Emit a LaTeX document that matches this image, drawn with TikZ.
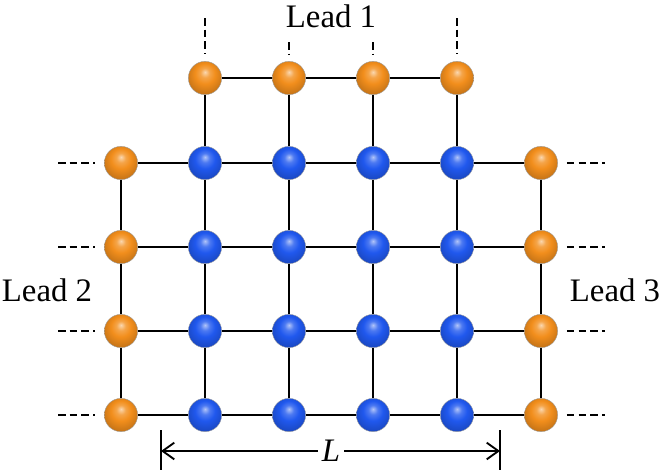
\documentclass[tikz,border=0pt]{standalone}
\usepackage{fontspec}
\setmainfont{Liberation Serif}
\usetikzlibrary{positioning, arrows.meta, calc}
\definecolor{leadorange}{RGB}{242,142,28}
\definecolor{latblue}{RGB}{32,88,238}
\pgfdeclareradialshading{orangeball}{\pgfqpoint{0bp}{9bp}}{%
  color(0bp)=(leadorange!35!white); color(7bp)=(leadorange!80!white);
  color(15bp)=(leadorange); color(28bp)=(leadorange!82!black);
  color(50bp)=(leadorange!55!black)}
\pgfdeclareradialshading{blueball}{\pgfqpoint{0bp}{9bp}}{%
  color(0bp)=(latblue!35!white); color(7bp)=(latblue!80!white);
  color(15bp)=(latblue); color(28bp)=(latblue!82!black);
  color(50bp)=(latblue!55!black)}

\begin{document}
\begin{tikzpicture}[
    x=0.03cm, y=-0.03cm,
    font=\fontsize{28}{31}\selectfont,
    site/.style={circle, inner sep=0pt, minimum size=1cm, draw=black!40, line width=0.3pt},
    leadsite/.style={site, shading=orangeball},
    latsite/.style={site, shading=blueball},
    bond/.style={line width=2.4pt},
    leadline/.style={line width=2.4pt, dash pattern=on 6.5pt off 3.5pt},
    dimline/.style={line width=1.6pt},
    dimarrow/.style={line width=1.6pt, -{Straight Barb[length=3.5mm, width=5mm]}}
]
\useasboundingbox (0,0) rectangle (664,475);

% central lattice
\foreach \i in {1,...,4}
  \foreach \j in {1,...,4}
    \node[latsite] (c-\i-\j) at ({205+84*(\i-1)},{163+84*(\j-1)}) {};

% lead sites
\foreach \i in {1,...,4}
  \node[leadsite] (t-\i) at ({205+84*(\i-1)},78) {};
\foreach \j in {1,...,4} {
  \node[leadsite] (l-\j) at (121,{163+84*(\j-1)}) {};
  \node[leadsite] (r-\j) at (541,{163+84*(\j-1)}) {};
}

% bonds
\foreach \i in {1,...,4} {
  \draw[bond] (t-\i) -- (c-\i-1);
  \foreach \j [evaluate=\j as \k using int(\j+1)] in {1,...,3}
    \draw[bond] (c-\i-\j) -- (c-\i-\k);
}
\foreach \j in {1,...,4} {
  \draw[bond] (l-\j) -- (c-1-\j);
  \draw[bond] (c-4-\j) -- (r-\j);
  \foreach \i [evaluate=\i as \k using int(\i+1)] in {1,...,3}
    \draw[bond] (c-\i-\j) -- (c-\k-\j);
}
\foreach \a [evaluate=\a as \b using int(\a+1)] in {1,...,3} {
  \draw[bond] (t-\a) -- (t-\b);
  \draw[bond] (l-\a) -- (l-\b);
  \draw[bond] (r-\a) -- (r-\b);
}

% semi-infinite leads
\foreach \j in {1,...,4} {
  \coordinate (lend-\j) at (58,{163+84*(\j-1)});
  \coordinate (rend-\j) at (605,{163+84*(\j-1)});
  \draw[leadline] (lend-\j) -- ([xshift=-0.27cm]l-\j.west);
  \draw[leadline] ([xshift=0.27cm]r-\j.east) -- (rend-\j);
}
\coordinate (tend-1) at (205,18);
\coordinate (tend-2) at (289,42);
\coordinate (tend-3) at (373,42);
\coordinate (tend-4) at (457,18);
\foreach \i in {1,...,4}
  \draw[leadline] (tend-\i) -- ([yshift=0.22cm]t-\i.north);

% labels
\node (lead1) at (331,16) {Lead 1};
\node (lead2) at (47,290) {Lead 2};
\node (lead3) at (615,290) {Lead 3};

% length L
\node (len) at (331,451) {\textit{L}};
\coordinate (dimleft) at (161,451);
\coordinate (dimright) at (500,451);
\draw[dimline] (161,430) -- (161,470);
\draw[dimline] (500,430) -- (500,470);
\draw[dimarrow] (len.west) -- (dimleft);
\draw[dimarrow] (len.east) -- (dimright);
\end{tikzpicture}
\end{document}
